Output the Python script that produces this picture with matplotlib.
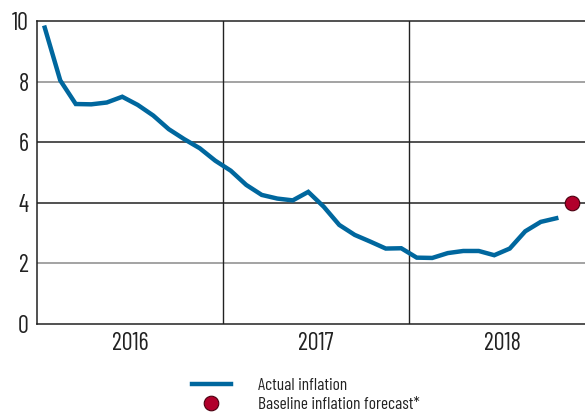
import matplotlib
matplotlib.use("Agg")
import matplotlib.pyplot as plt
from matplotlib.lines import Line2D

plt.rcParams['font.family'] = ['Barlow Condensed', 'DejaVu Sans']

# Monthly actual inflation, Jan 2016 .. Oct 2018
actual = [9.78, 8.04, 7.26, 7.25, 7.31, 7.50, 7.23, 6.88, 6.43, 6.10, 5.80, 5.39,
          5.06, 4.59, 4.26, 4.14, 4.08, 4.36, 3.87, 3.27, 2.94, 2.72, 2.49, 2.50,
          2.19, 2.18, 2.34, 2.41, 2.41, 2.27, 2.49, 3.06, 3.37, 3.49]
forecast_month = 34          # Nov 2018 (index from Jan 2016)
forecast_value = 4.0
years = ['2016', '2017', '2018']
y_ticks = [0, 2, 4, 6, 8, 10]
legend_labels = ['Actual inflation', 'Baseline inflation forecast*']

W, H = 585, 415
fig = plt.figure(figsize=(W / 100, H / 100), dpi=100)
ax = fig.add_axes([37 / W, 91 / H, 548 / W, 303 / H])

x = [i + 0.5 for i in range(len(actual))]
ax.plot(x, actual, color='#00679e', lw=3.2, solid_joinstyle='miter', zorder=3)
ax.scatter([forecast_month + 0.5], [forecast_value], s=110, color='#b1002b',
           edgecolor='#4a0010', linewidth=0.8, zorder=4, clip_on=False)

ax.set_xlim(0, 548 / 15.5)
ax.set_ylim(0, 10)

# grid lines
for yv in y_ticks[1:-1]:
    c = '#8a8a8a' if yv in (2, 8) else '#222222'
    ax.axhline(yv, color=c, lw=1.1, zorder=1)
for xv in (12, 24):
    ax.axvline(xv, color='#222222', lw=1.0, zorder=1)

for s in ['top', 'left', 'bottom']:
    ax.spines[s].set_color('#222222')
    ax.spines[s].set_linewidth(1.1)
ax.spines['right'].set_visible(False)

ax.set_yticks(y_ticks)
ax.set_yticklabels([str(v) for v in y_ticks])
ax.tick_params(axis='y', length=0, pad=6, labelsize=17.5, labelcolor='#222222')
ax.set_xticks([6, 18, 30])
ax.set_xticklabels(years)
ax.tick_params(axis='x', length=0, pad=6, labelsize=17.5, labelcolor='#222222')

handles = [Line2D([], [], color='#00679e', lw=3.2),
           Line2D([], [], ls='none', marker='o', markersize=10.5,
                  markerfacecolor='#b1002b', markeredgecolor='#4a0010',
                  markeredgewidth=0.8)]
fig.legend(handles, legend_labels,
           loc='upper left', bbox_to_anchor=(183 / W, 1 - 369 / H),
           frameon=False, fontsize=12.5, handlelength=2.25, handletextpad=1.55,
           labelspacing=0.22, borderpad=0, labelcolor='#222222')

fig.savefig('out.png', dpi=100)
